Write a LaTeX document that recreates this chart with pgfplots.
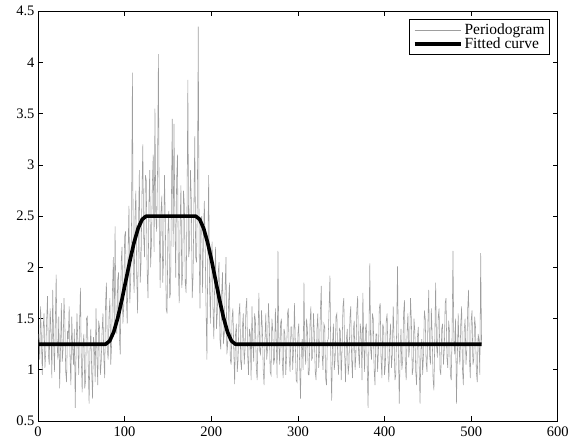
\documentclass[border={13pt 1pt 12pt 3pt}]{standalone}
\usepackage{fontspec}
\setmainfont{Liberation Serif}
\usepackage{pgfplots}
\pgfplotsset{compat=1.18}
\definecolor{pgram}{RGB}{158,158,158}
\begin{document}
\begin{tikzpicture}
\begin{axis}[
    scale only axis,
    width=520pt,
    height=410pt,
    xmin=0, xmax=600,
    ymin=0.5, ymax=4.5,
    xtick={0,100,...,600},
    ytick={0.5,1,...,4.5},
    tick align=inside,
    tick pos=both,
    major tick length=5pt,
    axis line style={line width=0.9pt},
    tick style={black, line width=0.7pt},
    /pgf/number format/assume math mode=true,
    tick label style={font=\fontsize{14.5}{16}\selectfont},
    xticklabel style={yshift=-2pt},
    legend style={at={(0.985,0.98)}, anchor=north east, draw=black, line width=0.9pt,
        font=\fontsize{15.5}{17}\selectfont, inner xsep=3pt, inner ysep=2pt,
        row sep=-2pt, cells={anchor=west}},
    legend image code/.code={\draw[#1] (0pt,0pt) -- (46pt,0pt);},
    legend cell align=left,
]
\addplot[pgram, line width=0.55pt] coordinates {
(1,1.35) (2,1.10) (3,1.62) (4,1.28) (5,0.95) (6,1.42) (7,1.55) (8,1.02) (9,1.18) (10,1.48) (11,1.72) (12,1.15) (13,1.05) (14,1.60) (15,1.40) (16,0.92) (17,1.78) (18,1.30) (19,0.98) (20,1.45)
(21,1.93) (22,1.25) (23,1.10) (24,1.52) (25,0.82) (26,1.20) (27,1.65) (28,1.08) (29,1.20) (30,1.70) (31,1.48) (32,0.98) (33,0.88) (34,1.38) (35,1.30) (36,1.62) (37,1.12) (38,0.85) (39,1.52) (40,1.22)
(41,1.05) (42,1.40) (43,0.63) (44,1.18) (45,1.55) (46,1.28) (47,0.95) (48,1.45) (49,1.80) (50,1.10) (51,0.78) (52,1.25) (53,1.35) (54,0.82) (55,0.90) (56,1.50) (57,1.52) (58,1.05) (59,0.67) (60,1.20)
(61,1.40) (62,0.98) (63,0.72) (64,1.32) (65,1.25) (66,0.88) (67,1.60) (68,1.15) (69,0.85) (70,1.48) (71,1.42) (72,0.95) (73,1.08) (74,1.38) (75,1.55) (76,1.12) (77,0.92) (78,1.65) (79,1.85) (80,1.20)
(81,1.10) (82,1.52) (83,1.70) (84,1.05) (85,1.25) (86,1.78) (87,2.10) (88,1.40) (89,2.40) (90,1.55) (91,1.35) (92,1.88) (93,1.95) (94,1.30) (95,1.15) (96,2.05) (97,2.20) (98,1.45) (99,1.62) (100,2.30)
(101,2.35) (102,1.70) (103,1.45) (104,2.15) (105,2.60) (106,1.65) (107,1.88) (108,2.45) (109,3.90) (110,2.00) (111,1.75) (112,2.50) (113,2.75) (114,1.90) (115,1.55) (116,2.40) (117,2.95) (118,1.85) (119,2.05) (120,2.70)
(121,3.20) (122,2.30) (123,2.10) (124,2.90) (125,2.85) (126,1.95) (127,1.70) (128,2.60) (129,2.95) (130,2.00) (131,2.25) (132,2.80) (133,3.10) (134,2.15) (135,3.55) (136,2.50) (137,2.35) (138,2.95) (139,4.08) (140,2.40)
(141,1.80) (142,2.55) (143,2.70) (144,1.85) (145,2.10) (146,2.90) (147,2.45) (148,1.60) (149,1.55) (150,2.35) (151,2.55) (152,1.70) (153,1.75) (154,2.65) (155,3.45) (156,2.20) (157,3.40) (158,2.50) (159,1.90) (160,2.85)
(161,3.10) (162,2.00) (163,1.65) (164,2.40) (165,2.80) (166,1.80) (167,1.95) (168,2.75) (169,2.60) (170,1.85) (171,1.75) (172,2.55) (173,3.83) (174,2.10) (175,2.20) (176,2.95) (177,2.65) (178,1.70) (179,1.90) (180,2.60)
(181,3.28) (182,2.10) (183,2.05) (184,2.70) (185,4.35) (186,2.20) (187,1.60) (188,2.45) (189,2.50) (190,1.75) (191,2.30) (192,2.65) (193,2.20) (194,1.60) (195,1.10) (196,2.10) (197,2.90) (198,1.85) (199,1.45) (200,2.05)
(201,2.25) (202,1.60) (203,1.30) (204,1.90) (205,2.20) (206,1.40) (207,1.55) (208,1.95) (209,2.05) (210,1.30) (211,1.20) (212,1.75) (213,1.95) (214,1.25) (215,1.35) (216,1.80) (217,2.10) (218,1.15) (219,1.25) (220,1.65)
(221,1.85) (222,1.10) (223,1.05) (224,1.50) (225,1.60) (226,1.20) (227,0.86) (228,1.35) (229,1.45) (230,0.98) (231,1.10) (232,1.55) (233,1.65) (234,1.08) (235,1.00) (236,1.42) (237,1.55) (238,1.05) (239,1.20) (240,1.60)
(241,1.70) (242,1.15) (243,0.95) (244,1.40) (245,1.35) (246,0.90) (247,1.62) (248,1.25) (249,1.08) (250,1.55) (251,1.48) (252,1.02) (253,0.90) (254,1.35) (255,1.75) (256,1.18) (257,1.15) (258,1.58) (259,1.40) (260,1.00)
(261,0.85) (262,1.30) (263,1.55) (264,1.10) (265,1.20) (266,1.65) (267,1.45) (268,0.98) (269,0.95) (270,1.50) (271,1.38) (272,1.05) (273,1.10) (274,1.60) (275,1.30) (276,0.92) (277,2.16) (278,1.25) (279,1.05) (280,1.45)
(281,1.50) (282,1.08) (283,0.92) (284,1.40) (285,1.35) (286,0.95) (287,1.15) (288,1.55) (289,1.60) (290,1.12) (291,0.98) (292,1.42) (293,1.42) (294,1.00) (295,1.20) (296,1.65) (297,1.28) (298,0.90) (299,0.88) (300,1.35)
(301,1.45) (302,1.05) (303,0.72) (304,1.20) (305,1.30) (306,1.00) (307,1.85) (308,1.22) (309,1.05) (310,1.50) (311,1.40) (312,0.95) (313,0.95) (314,1.45) (315,1.62) (316,1.10) (317,1.12) (318,1.55) (319,1.35) (320,0.98)
(321,0.90) (322,1.40) (323,1.55) (324,1.02) (325,1.18) (326,1.58) (327,1.82) (328,1.15) (329,1.00) (330,1.45) (331,1.42) (332,0.92) (333,0.85) (334,1.28) (335,1.30) (336,1.60) (337,1.92) (338,1.10) (339,0.70) (340,1.25)
(341,1.45) (342,1.00) (343,1.10) (344,1.52) (345,1.55) (346,1.08) (347,0.95) (348,1.40) (349,1.38) (350,0.90) (351,1.20) (352,1.62) (353,1.70) (354,1.15) (355,0.88) (356,1.30) (357,1.40) (358,0.95) (359,1.05) (360,1.50)
(361,1.62) (362,1.12) (363,0.92) (364,1.38) (365,1.48) (366,1.00) (367,1.15) (368,1.58) (369,1.72) (370,1.18) (371,1.02) (372,1.45) (373,1.35) (374,0.90) (375,1.75) (376,1.28) (377,0.98) (378,1.40) (379,1.45) (380,1.05)
(381,0.63) (382,1.30) (383,2.04) (384,1.20) (385,1.10) (386,1.55) (387,1.50) (388,1.00) (389,0.85) (390,1.35) (391,1.35) (392,0.98) (393,1.20) (394,1.60) (395,1.65) (396,1.10) (397,0.92) (398,1.45) (399,1.40) (400,0.95)
(401,1.05) (402,1.48) (403,1.55) (404,1.12) (405,0.88) (406,1.30) (407,1.45) (408,1.02) (409,1.15) (410,1.62) (411,1.30) (412,0.90) (413,0.95) (414,1.40) (415,2.01) (416,1.20) (417,0.67) (418,1.15) (419,1.40) (420,1.00)
(421,1.10) (422,1.55) (423,1.68) (424,1.05) (425,0.90) (426,1.35) (427,1.55) (428,1.12) (429,1.22) (430,1.70) (431,1.48) (432,0.95) (433,1.02) (434,1.50) (435,1.38) (436,0.98) (437,0.85) (438,1.32) (439,1.42) (440,1.05)
(441,0.67) (442,1.20) (443,1.30) (444,0.95) (445,1.15) (446,1.58) (447,1.50) (448,1.08) (449,0.98) (450,1.42) (451,1.78) (452,1.15) (453,1.05) (454,1.60) (455,1.35) (456,0.92) (457,0.80) (458,1.30) (459,1.85) (460,1.25)
(461,1.12) (462,1.52) (463,1.60) (464,1.00) (465,0.95) (466,1.40) (467,1.45) (468,1.05) (469,1.20) (470,1.65) (471,1.70) (472,1.12) (473,1.02) (474,1.48) (475,1.38) (476,0.95) (477,0.90) (478,1.35) (479,2.16) (480,1.30)
(481,1.15) (482,1.50) (483,0.67) (484,1.10) (485,1.55) (486,1.22) (487,1.05) (488,1.45) (489,1.62) (490,1.00) (491,0.85) (492,1.38) (493,1.50) (494,1.05) (495,1.20) (496,1.60) (497,1.78) (498,1.10) (499,0.92) (500,1.48)
(501,1.58) (502,1.05) (503,1.10) (504,1.52) (505,1.42) (506,0.98) (507,0.88) (508,1.35) (509,1.30) (510,0.95) (511,2.14) (512,1.25)
};
\addlegendentry{Periodogram}
\addplot[black, line width=3.6pt, line join=round] coordinates {
(1,1.25) (78,1.25) (82.7,1.281) (87.4,1.369) (92.1,1.508) (96.8,1.682) (101.5,1.875)
(106.2,2.068) (110.9,2.242) (115.6,2.381) (120.3,2.469) (125,2.5)
(182,2.5) (186.6,2.469) (191.2,2.381) (195.8,2.242) (200.4,2.068) (205,1.875)
(209.6,1.682) (214.2,1.508) (218.8,1.369) (223.4,1.281) (228,1.25) (512,1.25)
};
\addlegendentry{Fitted curve}
\end{axis}
\end{tikzpicture}
\end{document}
